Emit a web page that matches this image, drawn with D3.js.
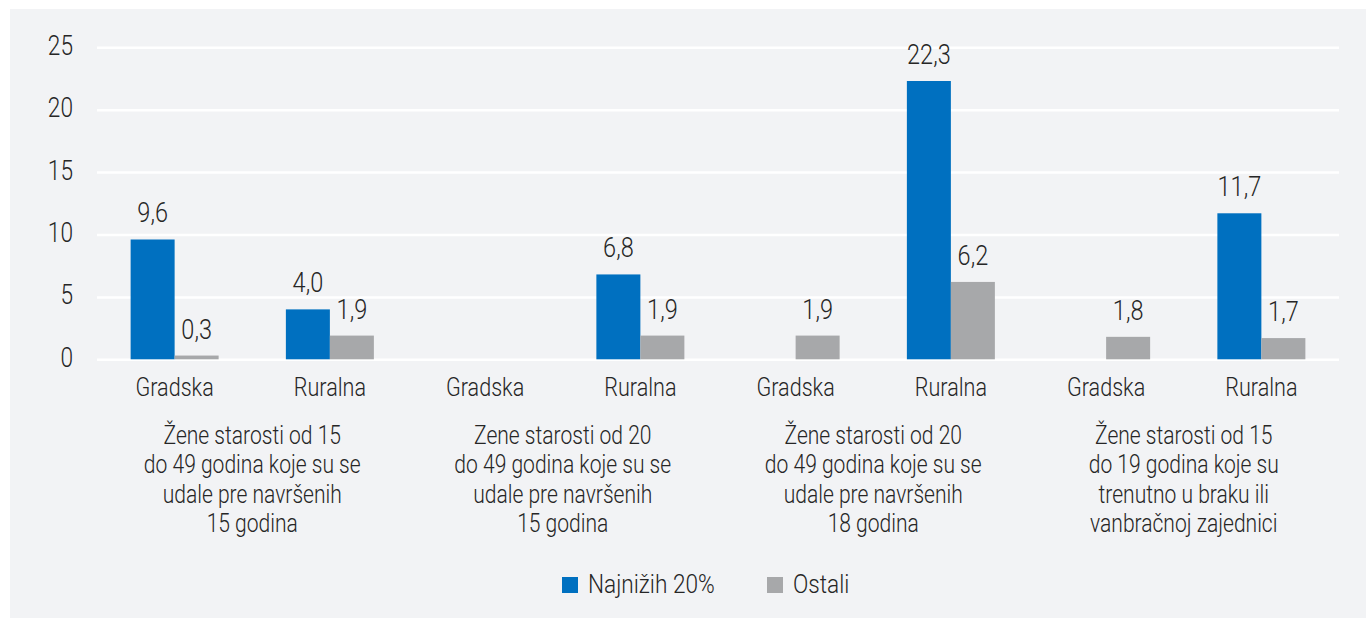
<!DOCTYPE html>
<html><head><meta charset="utf-8">
<script src="https://cdn.jsdelivr.net/npm/d3@7"></script>
<style>
html,body{margin:0;padding:0;background:#fff;}
svg{display:block;}
text{font-family:Roboto,"Noto Sans",sans-serif;fill:#262626;font-weight:300;}
</style></head>
<body>
<svg id="chart" width="1366" height="618"></svg>
<script>
const categories = ["Gradska","Ruralna","Gradska","Ruralna","Gradska","Ruralna","Gradska","Ruralna"];
const groupLabels = [
  ["Žene starosti od 15","do 49 godina koje su se","udale pre navršenih","15 godina"],
  ["Zene starosti od 20","do 49 godina koje su se","udale pre navršenih","15 godina"],
  ["Žene starosti od 20","do 49 godina koje su se","udale pre navršenih","18 godina"],
  ["Žene starosti od 15","do 19 godina koje su","trenutno u braku ili","vanbračnoj zajednici"]
];
const seriesNames = ["Najnižih 20%","Ostali"];
const najnizih = [9.6, 4.0, null, 6.8, null, 22.3, null, 11.7];
const ostali   = [0.3, 1.9, null, 1.9, 1.9, 6.2, 1.8, 1.7];
const yTicks = [0,5,10,15,20,25];
const colors = ["#0070c0","#a7a8aa"];

(function(){
const svg = d3.select("#chart");
svg.append("rect").attr("x",10).attr("y",9).attr("width",1356).attr("height",609).attr("fill","#f2f3f5");

const pLeft=97, pRight=1339, pTop=47.3, pBottom=359.3;
const idx = d3.range(categories.length);
const x = d3.scaleBand().domain(idx).range([pLeft,pRight]).paddingInner(0).paddingOuter(0);
const bw = x.bandwidth();
const xs = d3.scaleBand().domain(seriesNames).range([bw/2-44, bw/2+44]);
const y = d3.scaleLinear().domain([0,25]).range([pBottom,pTop]);

function sText(parent, tx, ty, str, size, anchor, sx){
  const g = parent.append("g").attr("transform",`translate(${tx},${ty})`);
  g.append("text").attr("transform",`scale(${sx},1)`).attr("text-anchor",anchor||"middle")
    .attr("font-size",size).text(str);
  return g;
}

// grid
const yAxis = d3.axisLeft(y).tickValues(yTicks).tickSize(-(pRight-pLeft)).tickFormat("");
const ga = svg.append("g").attr("transform",`translate(${pLeft},0)`).call(yAxis);
ga.select(".domain").remove();
ga.selectAll(".tick line").attr("stroke","#ffffff").attr("stroke-width",2.5);
yTicks.forEach(t=>sText(svg, 73, y(t)+7.5, String(t), 27, "end", 0.84));

const series = [najnizih, ostali];
series.forEach((vals,si)=>{
  const name = seriesNames[si];
  vals.forEach((v,i)=>{
    if(v==null) return;
    const bx = x(i)+xs(name);
    svg.append("rect").attr("x",bx).attr("y",y(v)).attr("width",xs.bandwidth())
      .attr("height",y(0)-y(v)).attr("fill",colors[si]);
    sText(svg, bx+xs.bandwidth()/2, y(v)-17, d3.format(".1f")(v).replace(".",","), 27, "middle", 0.87);
  });
});

// category labels
categories.forEach((c,i)=>sText(svg, x(i)+bw/2, 396, c, 26, "middle", 0.83));
// group labels
groupLabels.forEach((lines,gi)=>{
  const cx = x(gi*2)+bw;
  lines.forEach((l,li)=>sText(svg, cx, 444+li*29.4, l, 26, "middle", 0.81));
});

// legend
const legItems=[{n:seriesNames[0],c:colors[0],x:562},{n:seriesNames[1],c:colors[1],x:767}];
legItems.forEach(it=>{
  svg.append("rect").attr("x",it.x).attr("y",577).attr("width",16).attr("height",16).attr("fill",it.c);
  sText(svg, it.x+26, 593, it.n, 26, "start", 0.87);
});
})();
</script>
</body></html>
